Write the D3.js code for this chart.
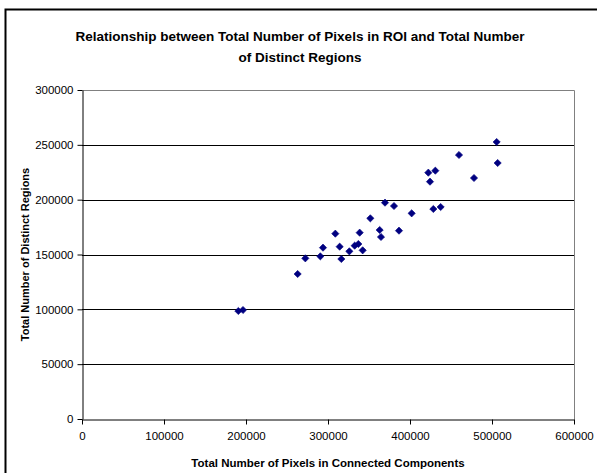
<!DOCTYPE html>
<html>
<head>
<meta charset="utf-8">
<script src="https://cdn.jsdelivr.net/npm/d3@7"></script>
<style>
  html, body { margin: 0; padding: 0; background: #fff; }
  svg { display: block; }
  text { font-family: "Liberation Sans", Arial, sans-serif; fill: #000; }
</style>
</head>
<body>
<svg id="chart" width="597" height="473"></svg>
<script>
const pixelsX = [190650, 196340, 263000, 272360, 290650, 293900, 308940, 314230, 316260, 326020,
                 332520, 337000, 338620, 342280, 351630, 363010, 364630, 369510, 380490, 386590,
                 402030, 422360, 424390, 428460, 430890, 437400, 459760, 478050, 505690, 506910];
const regionsY = [98480, 99390, 132220, 146500, 148330, 156230, 169000, 157140, 145900, 152890,
                  158050, 159570, 169910, 153800, 182980, 172340, 165960, 197260, 194220, 171730,
                  187530, 224620, 216410, 191490, 226440, 193310, 240730, 219750, 252580, 233430];
const xTicks = [0, 100000, 200000, 300000, 400000, 500000, 600000];
const yTicks = [0, 50000, 100000, 150000, 200000, 250000, 300000];
const titleLines = ["Relationship between Total Number of Pixels in ROI and Total Number", "of Distinct Regions"];
const xTitle = "Total Number of Pixels in Connected Components";
const yTitle = "Total Number of Distinct Regions";

const svg = d3.select("#chart");
const L = 82, R = 574, T = 90, B = 419;

// outer chart border
svg.append("rect").attr("x", 5.5).attr("y", 9.5).attr("width", 600).attr("height", 470)
  .attr("fill", "#fff").attr("stroke", "#000").attr("stroke-width", 2);

const x = d3.scaleLinear().domain([0, 600000]).range([L, R]);
const y = d3.scaleLinear().domain([0, 300000]).range([B, T]);

// title
svg.append("text").attr("x", 300).attr("y", 41).attr("text-anchor", "middle")
  .style("font-size", "13.5px").style("font-weight", "bold")
  .selectAll("tspan").data(titleLines).join("tspan")
  .attr("x", 300).attr("dy", (d, i) => i === 0 ? 0 : 21).text(d => d);

// gridlines
svg.append("g").selectAll("line").data(yTicks.filter(v => v > 0 && v < 300000)).join("line")
  .attr("x1", L).attr("x2", R)
  .attr("y1", d => Math.round(y(d)) + 0.5).attr("y2", d => Math.round(y(d)) + 0.5)
  .attr("stroke", "#000").attr("stroke-width", 1);

// plot area border (top/right gray)
svg.append("path")
  .attr("d", `M${L + 0.5},${T + 0.5}H${R + 0.5}V${B + 0.5}`)
  .attr("fill", "none").attr("stroke", "#808080").attr("stroke-width", 1);

// axes
const xAxis = d3.axisBottom(x).tickValues(xTicks).tickFormat(d3.format("d")).tickSizeInner(5).tickSizeOuter(0).tickPadding(7);
const yAxis = d3.axisLeft(y).tickValues(yTicks).tickFormat(d3.format("d")).tickSizeInner(5).tickSizeOuter(0).tickPadding(4);

const gx = svg.append("g").attr("transform", `translate(0,${B + 0.5})`).call(xAxis);
const gy = svg.append("g").attr("transform", `translate(${L + 0.5},0)`).call(yAxis);
[gx, gy].forEach(g => {
  g.selectAll("path").attr("stroke", "#000");
  g.selectAll("line").attr("stroke", "#000");
  g.selectAll("text").style("font-size", "11.5px").style("font-family", "'Liberation Sans', Arial, sans-serif").attr("fill", "#000");
});

// points
svg.append("g").selectAll("path").data(pixelsX.map((v, i) => [v, regionsY[i]])).join("path")
  .attr("d", d3.symbol().type(d3.symbolSquare).size(26))
  .attr("transform", d => `translate(${x(d[0])},${y(d[1])}) rotate(45)`)
  .attr("fill", "#000080").attr("stroke", "#000080").attr("stroke-width", 0.6);

// axis titles
svg.append("text").attr("x", (L + R) / 2).attr("y", 467).attr("text-anchor", "middle")
  .style("font-size", "11.5px").style("font-weight", "bold").text(xTitle);
svg.append("text").attr("transform", `translate(29,${(T + B) / 2}) rotate(-90)`)
  .attr("text-anchor", "middle")
  .style("font-size", "11px").style("font-weight", "bold").text(yTitle);
</script>
</body>
</html>
